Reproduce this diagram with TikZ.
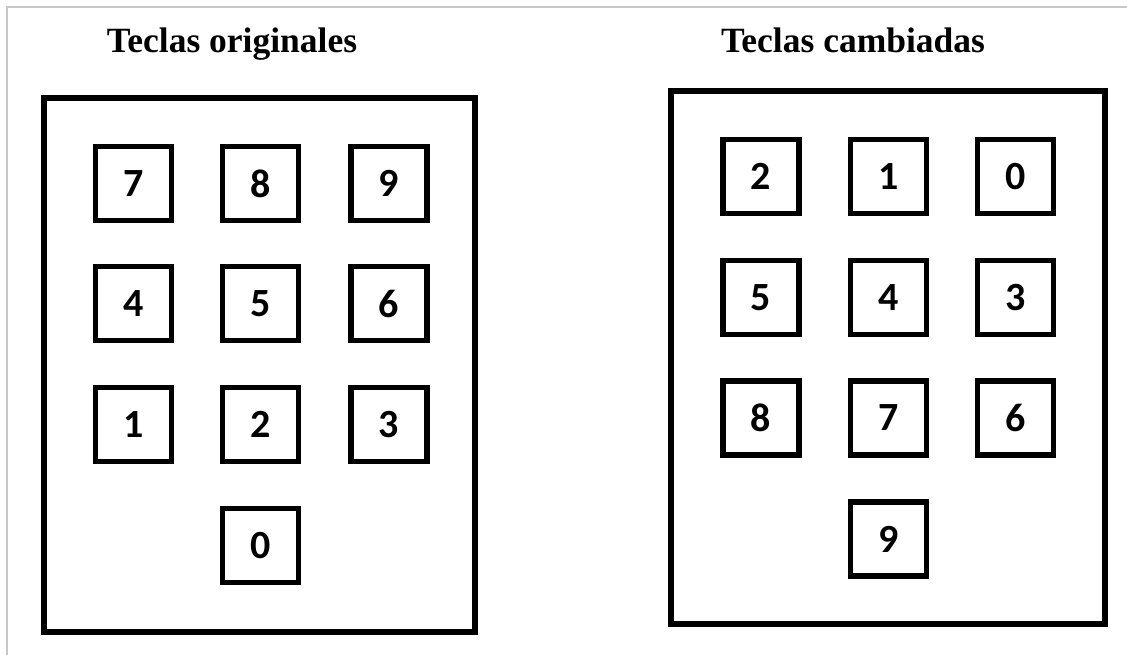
\documentclass[tikz,border=0pt]{standalone}
\usepackage{fontspec}
\setmainfont{Liberation Serif}
\newfontfamily\keyfont{Carlito}
\begin{document}
\begin{tikzpicture}[x=1pt,y=-1pt,
  keybox/.style={draw=black,line width=5.5pt,minimum width=76pt,minimum height=74pt,inner sep=0pt,
    font=\keyfont\bfseries\fontsize{40}{44}\selectfont},
  padbox/.style={draw=black,line width=6pt,inner sep=0pt},
  title/.style={font=\bfseries\fontsize{35.5}{40}\selectfont,anchor=base},
  frame/.style={draw=black!22,line width=1.5pt}]
\useasboundingbox (0,0) rectangle (1127,655);
\fill[white] (0,0) rectangle (1127,655);
\coordinate (fc) at (7,7);
\coordinate (fr) at (1127,7);
\coordinate (fb) at (7,655);
\draw[frame] (fr) -- (fc) -- (fb);
% titles
\node[title] (t1) at (232,53) {Teclas originales};
\node[title] (t2) at (853,53) {Teclas cambiadas};
% pads
\node[padbox,minimum width=431pt,minimum height=534pt] (lpad) at (259.5,365) {};
\node[padbox,minimum width=434pt,minimum height=533pt] (rpad) at (888,357.5) {};
% left keys
\node[keybox] (l7) at (133.5,183.5) {7};
\node[keybox] (l8) at (260.5,183.5) {8};
\node[keybox] (l9) at (389,183.5) {9};
\node[keybox] (l4) at (133.5,303.5) {4};
\node[keybox] (l5) at (260.5,303.5) {5};
\node[keybox] (l6) at (389,303.5) {6};
\node[keybox] (l1) at (133.5,424.5) {1};
\node[keybox] (l2) at (260.5,424.5) {2};
\node[keybox] (l3) at (389,424.5) {3};
\node[keybox] (l0) at (260.5,545.5) {0};
% right keys
\node[keybox] (r2) at (761,176.5) {2};
\node[keybox] (r1) at (888.5,176.5) {1};
\node[keybox] (r0) at (1015.5,176.5) {0};
\node[keybox] (r5) at (761,297.5) {5};
\node[keybox] (r4) at (888.5,297.5) {4};
\node[keybox] (r3) at (1015.5,297.5) {3};
\node[keybox] (r8) at (761,418) {8};
\node[keybox] (r7) at (888.5,418) {7};
\node[keybox] (r6) at (1015.5,418) {6};
\node[keybox] (r9) at (888.5,539) {9};
\end{tikzpicture}
\end{document}
